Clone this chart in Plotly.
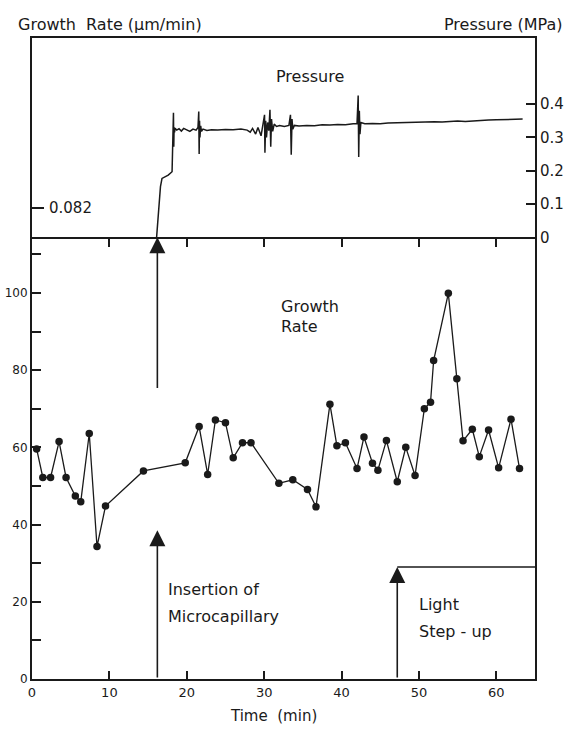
import plotly.graph_objects as go

# ---------------- data ----------------
growth_time = [0.6, 1.4, 2.4, 3.5, 4.4, 5.6, 6.3, 7.4, 8.4, 9.5, 14.4, 19.8, 21.6, 22.7, 23.7,
               25.0, 26.0, 27.2, 28.3, 31.9, 33.7, 35.6, 36.7, 38.5, 39.4, 40.5, 42.0, 42.9, 44.0, 44.7,
               45.8, 47.2, 48.3, 49.5, 50.7, 51.5, 51.9, 53.8, 54.9, 55.7, 56.9, 57.8, 59.0, 60.3, 61.9, 63.0]
growth_rate = [59.6, 52.2, 52.2, 61.5, 52.2, 47.4, 45.9, 63.6, 34.3, 44.8, 53.9, 56.0, 65.4, 53.0, 67.1,
               66.4, 57.3, 61.2, 61.2, 50.7, 51.6, 49.1, 44.6, 71.2, 60.4, 61.2, 54.5, 62.7, 55.9, 54.1,
               61.8, 51.1, 60.0, 52.7, 70.0, 71.7, 82.5, 99.9, 77.8, 61.7, 64.7, 57.6, 64.5, 54.7, 67.3, 54.5]

pressure_time = [16.1, 16.3, 16.5, 16.6, 16.8, 17.2, 17.6, 18.1, 18.2,
                 18.28, 18.32, 18.36, 18.42, 18.5, 18.7, 19.0, 19.3, 19.6, 20.0, 20.4, 20.8, 21.2, 21.45,
                 21.55, 21.6, 21.65, 21.7, 21.8, 21.9, 22.1, 22.6, 23.2, 24.0, 25.0, 26.0, 27.0, 27.8,
                 28.2, 28.5, 28.9, 29.2, 29.6, 29.8,
                 30.0, 30.05, 30.1, 30.2, 30.3, 30.45, 30.6, 30.75, 30.85, 30.95, 31.1, 31.3, 31.6,
                 32.0, 32.6, 33.2,
                 33.4, 33.5, 33.6, 33.7, 33.9, 34.5, 35.5, 36.5, 37.5, 38.5, 39.5, 40.5, 41.5, 42.0,
                 42.15, 42.22, 42.3, 42.38, 42.5, 43, 44, 45, 46, 47, 48, 49, 50, 51, 52, 53, 54, 55,
                 56, 57, 58, 59, 60, 61, 62, 63.4]
pressure_mpa = [0.0, 0.06, 0.14, 0.152, 0.177, 0.182, 0.187, 0.197, 0.30,
                0.374, 0.272, 0.33, 0.315, 0.328, 0.322, 0.326, 0.319, 0.327, 0.322, 0.318, 0.325, 0.322, 0.33,
                0.378, 0.250, 0.35, 0.30, 0.335, 0.318, 0.325, 0.321, 0.323, 0.322, 0.324, 0.323, 0.325, 0.322,
                0.316, 0.327, 0.310, 0.33, 0.305, 0.335,
                0.36, 0.368, 0.254, 0.35, 0.30, 0.345, 0.32, 0.383, 0.272, 0.355, 0.318, 0.34, 0.333,
                0.336, 0.333, 0.336,
                0.368, 0.248, 0.355, 0.325, 0.336, 0.334, 0.336, 0.335, 0.338, 0.337, 0.339, 0.338, 0.341, 0.342,
                0.426, 0.241, 0.38, 0.31, 0.345, 0.341, 0.342, 0.341, 0.343, 0.344, 0.343, 0.345, 0.345, 0.346,
                0.347, 0.346, 0.348, 0.349, 0.348, 0.350, 0.351, 0.352, 0.353, 0.354, 0.355, 0.355]

insertion_time = 16.2
light_time = 47.2
light_level = 29
insertion_arrow_top = 38.5
upper_arrow_base = 75

x_ticks = [0, 10, 20, 30, 40, 50, 60]
x_ticklabels = ["0", "10", "20", "30", "40", "50", "60"]
growth_ticks = [0, 10, 20, 30, 40, 50, 60, 70, 80, 90, 100, 110]
growth_ticklabels = ["0", "", "20", "", "40", "", "60", "", "80", "", "100", ""]
pressure_ticks = [0, 0.1, 0.2, 0.3, 0.4]
pressure_ticklabels = ["0", "0.1", "0.2", "0.3", "0.4"]
left_mark_value = 0.0872
left_mark_label = "0.082"

X_RANGE = [0, 65]
G_RANGE = [0, 114.4]
P_RANGE = [0, 0.5985]
FONT = "DejaVu Sans"
INK = "#1a1a1a"

fig = go.Figure()

fig.add_trace(go.Scatter(x=growth_time, y=growth_rate, mode="lines+markers",
                         line=dict(color=INK, width=1.3),
                         marker=dict(color=INK, size=7.5),
                         xaxis="x", yaxis="y", showlegend=False, hoverinfo="skip"))

fig.add_trace(go.Scatter(x=pressure_time, y=pressure_mpa, mode="lines",
                         line=dict(color=INK, width=1.5),
                         xaxis="x2", yaxis="y2", showlegend=False, hoverinfo="skip"))

# same pressure series on the right-hand pressure scale (invisible) so that axis is drawn
fig.add_trace(go.Scatter(x=pressure_time, y=pressure_mpa, mode="lines",
                         line=dict(color="rgba(0,0,0,0)", width=0),
                         xaxis="x2", yaxis="y3", showlegend=False, hoverinfo="skip"))

# light step-up horizontal line
fig.add_trace(go.Scatter(x=[light_time, X_RANGE[1]], y=[light_level, light_level], mode="lines",
                         line=dict(color=INK, width=1.5),
                         xaxis="x", yaxis="y", showlegend=False, hoverinfo="skip"))

bottom_dom = [0, 0.689]
top_dom = [0.689, 1]

axis_common = dict(showgrid=False, zeroline=False, linecolor=INK, linewidth=2,
                   tickcolor=INK, tickwidth=1.5, automargin=False)

fig.update_layout(
    width=566, height=730,
    margin=dict(l=32, r=31, t=38, b=51, autoexpand=False),
    paper_bgcolor="white", plot_bgcolor="white",
    font=dict(family=FONT, color=INK),
    xaxis=dict(domain=[0, 1], range=X_RANGE, anchor="y", tickvals=x_ticks, ticktext=x_ticklabels,
               ticks="inside", ticklen=8, showline=True, mirror=False,
               tickfont=dict(size=13, family=FONT, color=INK), **axis_common),
    yaxis=dict(domain=bottom_dom, range=G_RANGE, anchor="x", tickvals=growth_ticks,
               ticktext=growth_ticklabels, ticks="inside", ticklen=9, showline=True, mirror=True,
               tickfont=dict(size=12, family=FONT, color=INK), **axis_common),
    xaxis2=dict(domain=[0, 1], range=X_RANGE, anchor="y2", showticklabels=False,
                tickvals=x_ticks[1:], ticks="outside", ticklen=8,
                showline=True, mirror=True, **axis_common),
    yaxis2=dict(domain=top_dom, range=P_RANGE, anchor="x2", tickvals=[left_mark_value],
                ticktext=[""], ticks="inside", ticklen=12, showline=True,
                **axis_common),
    yaxis3=dict(domain=top_dom, range=P_RANGE, anchor="x2", overlaying="y2", side="right",
                tickvals=pressure_ticks, ticktext=pressure_ticklabels, ticks="inside", ticklen=9,
                showline=True, tickfont=dict(size=15, family=FONT, color=INK), **axis_common),
)

ann = []
def txt(x, y, s, xref="x", yref="y", size=16, xanchor="left", yanchor="middle"):
    ann.append(dict(x=x, y=y, xref=xref, yref=yref, text=s, showarrow=False,
                    xanchor=xanchor, yanchor=yanchor,
                    font=dict(family=FONT, size=size, color=INK)))

# titles
txt(-0.032, 1.0205, "Growth  Rate (μm/min)", xref="paper", yref="paper", size=16)
txt(1.058, 1.0205, "Pressure (MPa)", xref="paper", yref="paper", size=16, xanchor="right")
txt(0.481, -0.058, "Time  (min)", xref="paper", yref="paper", size=15, xanchor="center")

# in-plot labels
txt(31.9, 96.4, "Growth")
txt(31.9, 91.2, "Rate")
txt(35.9, 0.482, "Pressure", xref="x2", yref="y2", xanchor="center")
txt(2.0, left_mark_value, left_mark_label, xref="x2", yref="y2", size=15)
txt(17.3, 23.1, "Insertion of")
txt(17.3, 16.1, "Microcapillary")
txt(49.7, 19.4, "Light")
txt(49.7, 12.4, "Step - up")

# arrows
def arrow(x, y0, y1):
    ann.append(dict(x=x, y=y1, ax=x, ay=y0, xref="x", yref="y", axref="x", ayref="y",
                    showarrow=True, arrowhead=2, arrowsize=2.0, arrowwidth=1.6,
                    arrowcolor=INK, text=""))

arrow(insertion_time, 0, insertion_arrow_top)
arrow(insertion_time, upper_arrow_base, G_RANGE[1])
arrow(light_time, 0, light_level)

fig.update_layout(annotations=ann)

fig.write_html("out.html")
